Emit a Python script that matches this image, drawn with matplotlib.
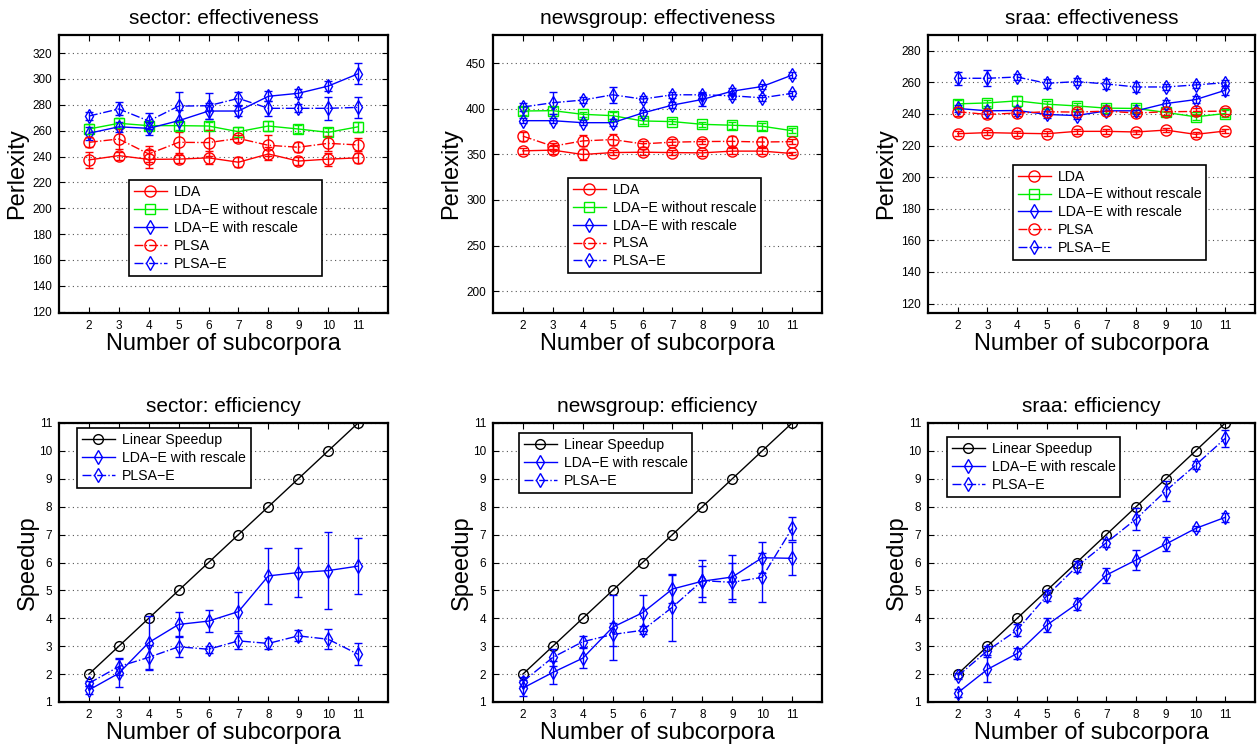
#Recreating the six panel effectiveness / efficiency figure (perplexity and speedup vs number of subcorpora).

#Importing necessary libraries.
import matplotlib
matplotlib.use('Agg')
import matplotlib.pyplot as plt

plt.rcParams['font.family'] = ['Liberation Sans', 'DejaVu Sans']

#Number of subcorpora on the x axis.
subcorpora = [2, 3, 4, 5, 6, 7, 8, 9, 10, 11]

#sector: effectiveness (perplexity mean and error).
sector_lda = [237.4, 240.7, 237.8, 238.0, 239.0, 235.6, 242.0, 236.5, 238.0, 239.0]
sector_lda_err = [6, 3, 7, 3, 5, 4, 5, 3, 5, 4]
sector_ldae_norescale = [261.3, 265.7, 263.9, 263.9, 263.6, 259.2, 263.6, 261.3, 258.7, 263.0]
sector_ldae_norescale_err = [4, 4, 3, 3, 3, 4, 4, 3, 3, 4]
sector_ldae_rescale = [258.0, 263.0, 261.8, 267.7, 275.2, 275.2, 286.6, 288.9, 294.5, 304.0]
sector_ldae_rescale_err = [5, 4, 5, 8, 6, 4, 4, 3, 4, 8]
sector_plsa = [251.0, 253.6, 242.0, 251.0, 250.8, 254.0, 248.7, 247.2, 250.2, 249.0]
sector_plsa_err = [4, 8, 6, 8, 10, 3, 8, 4, 6, 5]
sector_plsae = [271.3, 276.8, 267.5, 279.0, 279.3, 285.0, 277.3, 277.3, 277.3, 278.0]
sector_plsae_err = [3, 5, 6, 11, 10, 5, 6, 3, 9, 8]

#newsgroup: effectiveness.
news_lda = [353.9, 354.7, 349.9, 352.0, 352.4, 352.0, 351.7, 353.6, 353.6, 351.0]
news_lda_err = [3, 4, 6, 3, 3, 3, 3, 3, 3, 2]
news_ldae_norescale = [397.6, 398.0, 394.0, 392.5, 386.7, 386.0, 383.0, 382.0, 380.9, 376.0]
news_ldae_norescale_err = [4, 4, 3, 4, 3, 3, 3, 4, 4, 3]
news_ldae_rescale = [387.0, 387.0, 384.8, 384.8, 395.4, 404.1, 410.3, 419.4, 424.5, 437.0]
news_ldae_rescale_err = [3, 3, 3, 4, 3, 3, 7, 3, 3, 3]
news_plsa = [370.0, 359.0, 364.8, 366.3, 361.6, 363.4, 364.1, 364.3, 363.6, 364.0]
news_plsa_err = [5, 3, 6, 6, 3, 3, 3, 6, 5, 3]
news_plsae = [402.0, 406.7, 409.6, 415.4, 410.7, 415.4, 415.4, 414.3, 412.1, 417.0]
news_plsae_err = [4, 12, 3, 9, 3, 3, 3, 3, 3, 3]

#sraa: effectiveness.
sraa_lda = [227.5, 228.2, 227.8, 227.5, 229.0, 229.0, 228.6, 229.8, 227.1, 229.2]
sraa_lda_err = [1.5, 1.5, 1.5, 1.5, 1.5, 1.5, 1.5, 1.5, 1.5, 1.5]
sraa_ldae_norescale = [246.4, 247.0, 248.3, 246.2, 245.1, 243.7, 243.5, 241.0, 238.2, 240.3]
sraa_ldae_norescale_err = [2.5, 2, 3, 2, 2, 2, 2, 2, 2, 2]
sraa_ldae_rescale = [243.5, 242.0, 242.2, 239.7, 239.0, 242.0, 242.0, 246.6, 249.1, 255.0]
sraa_ldae_rescale_err = [2, 2, 2, 2, 2, 2, 2, 2, 2, 3]
sraa_plsa = [241.4, 239.7, 240.6, 241.4, 241.2, 241.8, 240.6, 241.4, 241.6, 241.8]
sraa_plsa_err = [2.5, 2, 2, 2, 2, 2, 2, 2, 2, 2]
sraa_plsae = [262.6, 262.6, 263.4, 259.4, 260.5, 259.0, 257.1, 257.1, 258.4, 259.8]
sraa_plsae_err = [4, 5, 2, 3, 2, 3, 3, 2, 2, 2]

#Efficiency: linear speedup reference.
linear_speedup = [2, 3, 4, 5, 6, 7, 8, 9, 10, 11]

#sector: efficiency.
sector_sp_ldae = [1.43, 2.03, 3.13, 3.78, 3.90, 4.24, 5.52, 5.64, 5.71, 5.87]
sector_sp_ldae_err = [0.15, 0.5, 0.95, 0.45, 0.4, 0.7, 1.0, 0.87, 1.37, 1.0]
sector_sp_plsae = [1.67, 2.27, 2.60, 2.98, 2.89, 3.19, 3.10, 3.37, 3.25, 2.71]
sector_sp_plsae_err = [0.1, 0.3, 0.45, 0.37, 0.12, 0.3, 0.2, 0.2, 0.35, 0.39]

#newsgroup: efficiency.
news_sp_ldae = [1.5, 2.06, 2.57, 3.68, 4.2, 5.05, 5.33, 5.48, 6.17, 6.15]
news_sp_ldae_err = [0.3, 0.4, 0.35, 1.17, 0.65, 0.5, 0.55, 0.8, 0.55, 0.6]
news_sp_plsae = [1.73, 2.6, 3.16, 3.42, 3.57, 4.4, 5.35, 5.29, 5.47, 7.22]
news_sp_plsae_err = [0.15, 0.3, 0.2, 0.42, 0.15, 1.2, 0.75, 0.7, 0.88, 0.4]

#sraa: efficiency.
sraa_sp_ldae = [1.33, 2.17, 2.74, 3.76, 4.51, 5.55, 6.09, 6.66, 7.22, 7.62]
sraa_sp_ldae_err = [0.15, 0.45, 0.2, 0.25, 0.2, 0.27, 0.35, 0.25, 0.1, 0.17]
sraa_sp_plsae = [1.93, 2.84, 3.58, 4.81, 5.85, 6.71, 7.56, 8.57, 9.49, 10.45]
sraa_sp_plsae_err = [0.1, 0.15, 0.2, 0.2, 0.2, 0.15, 0.4, 0.35, 0.15, 0.3]

labels_eff = ['LDA', 'LDA\u2212E without rescale', 'LDA\u2212E with rescale', 'PLSA', 'PLSA\u2212E']
labels_spd = ['Linear Speedup', 'LDA\u2212E with rescale', 'PLSA\u2212E']

W, H = 1257, 746
fig = plt.figure(figsize=(W / 100, H / 100), dpi=100)


#Helper to place an axes by its pixel box.
def make_ax(left, top, right, bottom):
    return fig.add_axes([left / W, (H - bottom) / H, (right - left) / W, (bottom - top) / H])


#Common MATLAB-like styling for every panel.
def style_ax(ax, title, ylabel, yticks, ylim, ylabelpad):
    ax.set_xlim(1, 12)
    ax.set_xticks(subcorpora)
    ax.set_ylim(*ylim)
    ax.set_yticks(yticks)
    ax.tick_params(direction='in', top=True, right=True, labelsize=8.5, length=4, width=0.8, pad=5)
    ax.grid(axis='y', linestyle=(0, (1, 3)), color='#555555', linewidth=0.8)
    for s in ax.spines.values():
        s.set_linewidth(1.6)
    ax.set_title(title, fontsize=15, pad=8)
    ax.set_xlabel('Number of subcorpora', fontsize=17, labelpad=1)
    ax.set_ylabel(ylabel, fontsize=17, labelpad=ylabelpad)


def series(ax, y, err, color, marker, ls):
    cont = ax.errorbar(subcorpora, y, yerr=err, color=color, marker=marker, linestyle=ls, linewidth=1,
                       markersize=8 if marker == 'o' else 7, markerfacecolor='none', markeredgewidth=1,
                       capsize=3, elinewidth=1)
    return cont[0]


def legend(ax, handles, labels, x, y):
    leg = ax.legend(handles, labels, loc='upper left', bbox_to_anchor=(x, y), borderaxespad=0, fontsize=10.2,
                    fancybox=False, edgecolor='black', framealpha=1, handlelength=2.3,
                    labelspacing=0.28, borderpad=0.35, handletextpad=0.5)
    leg.get_frame().set_linewidth(1.2)


#Top row: effectiveness panels.
lefts = [59, 493, 928]
rights = [388, 822, 1255]

eff_data = [
    ('sector: effectiveness', range(120, 321, 20), (119, 334),
     [sector_lda, sector_ldae_norescale, sector_ldae_rescale, sector_plsa, sector_plsae],
     [sector_lda_err, sector_ldae_norescale_err, sector_ldae_rescale_err, sector_plsa_err, sector_plsae_err],
     (0.213, 0.478)),
    ('newsgroup: effectiveness', range(200, 451, 50), (176, 481),
     [news_lda, news_ldae_norescale, news_ldae_rescale, news_plsa, news_plsae],
     [news_lda_err, news_ldae_norescale_err, news_ldae_rescale_err, news_plsa_err, news_plsae_err],
     (0.228, 0.487)),
    ('sraa: effectiveness', range(120, 281, 20), (114, 290),
     [sraa_lda, sraa_ldae_norescale, sraa_ldae_rescale, sraa_plsa, sraa_plsae],
     [sraa_lda_err, sraa_ldae_norescale_err, sraa_ldae_rescale_err, sraa_plsa_err, sraa_plsae_err],
     (0.26, 0.534)),
]
styles_eff = [('red', 'o', '-'), ('#00ee00', 's', '-'), ('blue', 'd', '-'), ('red', 'o', '-.'), ('blue', 'd', '-.')]

for i, (title, yt, yl, ys, es, lpos) in enumerate(eff_data):
    ax = make_ax(lefts[i], 35, rights[i], 313)
    handles = []
    for (c, m, ls), y, e in zip(styles_eff, ys, es):
        handles.append(series(ax, y, e, c, m, ls))
    style_ax(ax, title, 'Perlexity', list(yt), yl, 3)
    legend(ax, handles, labels_eff, *lpos)

#Bottom row: efficiency panels.
spd_data = [
    ('sector: efficiency', sector_sp_ldae, sector_sp_ldae_err, sector_sp_plsae, sector_sp_plsae_err, (0.055, 0.982)),
    ('newsgroup: efficiency', news_sp_ldae, news_sp_ldae_err, news_sp_plsae, news_sp_plsae_err, (0.079, 0.964)),
    ('sraa: efficiency', sraa_sp_ldae, sraa_sp_ldae_err, sraa_sp_plsae, sraa_sp_plsae_err, (0.058, 0.95)),
]

for i, (title, y1, e1, y2, e2, lpos) in enumerate(spd_data):
    ax = make_ax(lefts[i], 423, rights[i], 702)
    h0, = ax.plot(subcorpora, linear_speedup, color='black', marker='o', markersize=7, markerfacecolor='none',
                  linewidth=1)
    h1 = series(ax, y1, e1, 'blue', 'd', '-')
    h2 = series(ax, y2, e2, 'blue', 'd', '-.')
    style_ax(ax, title, 'Speedup', list(range(1, 12)), (1, 11), 0)
    legend(ax, [h0, h1, h2], labels_spd, *lpos)

plt.savefig('out.png', dpi=100)
